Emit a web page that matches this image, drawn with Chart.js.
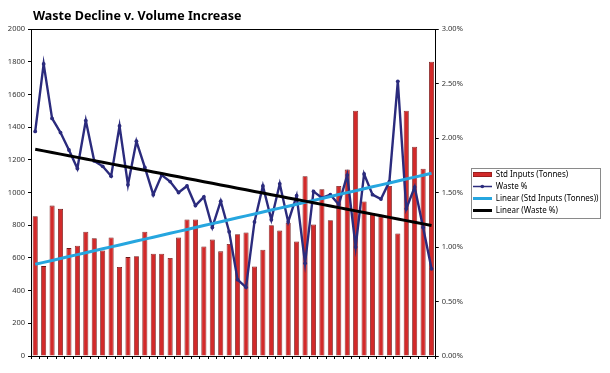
<!DOCTYPE html>
<html>
<head>
<meta charset="utf-8">
<script src="https://cdn.jsdelivr.net/npm/chart.js@4.4.1/dist/chart.umd.min.js"></script>
<style>
  html, body { margin: 0; padding: 0; background: #fff; }
  #wrap { width: 610px; height: 373px; }
</style>
</head>
<body>
<div id="wrap"><canvas id="waste"></canvas></div>
<script>
// one category per period, no labels shown on the chart
const periods = [
  1, 2, 3, 4, 5, 6, 7, 8, 9, 10, 11, 12, 13, 14, 15, 16,
  17, 18, 19, 20, 21, 22, 23, 24, 25, 26, 27, 28, 29, 30, 31, 32,
  33, 34, 35, 36, 37, 38, 39, 40, 41, 42, 43, 44, 45, 46, 47, 48
];

const stdInputs = [
  855, 550, 920, 900, 660, 675, 760, 720, 645, 725, 545, 605, 610, 760, 625, 625,
  600, 725, 835, 835, 670, 712, 640, 685, 745, 755, 548, 650, 800, 767, 815, 701,
  1100, 804, 1020, 830, 1040, 1140, 1500, 945, 875, 853, 1040, 750, 1500, 1280, 1145, 1800
];

const wastePct = [
  2.06, 2.68, 2.18, 2.05, 1.89, 1.72, 2.16, 1.79, 1.74, 1.65, 2.11, 1.57, 1.97, 1.73, 1.48, 1.66,
  1.60, 1.50, 1.56, 1.38, 1.46, 1.18, 1.42, 1.14, 0.70, 0.63, 1.23, 1.56, 1.25, 1.58, 1.23, 1.47,
  0.85, 1.51, 1.45, 1.48, 1.39, 1.66, 1.00, 1.67, 1.48, 1.44, 1.60, 2.52, 1.35, 1.55, 1.18, 0.80
];

const leftTicks = [0, 200, 400, 600, 800, 1000, 1200, 1400, 1600, 1800, 2000];
const rightTicks = [0, 0.5, 1, 1.5, 2, 2.5, 3];

const FONT = "'Noto Sans', 'DejaVu Sans', sans-serif";

// least squares trend, like a spreadsheet "Linear" trendline
function linearTrend(values) {
  const n = values.length;
  let sx = 0, sy = 0, sxy = 0, sxx = 0;
  values.forEach((v, i) => { sx += i; sy += v; sxy += i * v; sxx += i * i; });
  const slope = (n * sxy - sx * sy) / (n * sxx - sx * sx);
  const icpt = (sy - slope * sx) / n;
  return values.map((v, i) => icpt + slope * i);
}

function swatch(draw) {
  const c = document.createElement("canvas");
  c.width = 19;
  c.height = 7;
  draw(c.getContext("2d"));
  return c;
}

const swatches = [
  swatch((g) => {
    g.fillStyle = "#d22a2a";
    g.fillRect(0, 1, 19, 5);
    g.strokeStyle = "#7a1a1a";
    g.lineWidth = 0.6;
    g.strokeRect(0.3, 1.3, 18.4, 4.4);
  }),
  swatch((g) => {
    g.strokeStyle = "#2b2b7d";
    g.lineWidth = 1.5;
    g.beginPath(); g.moveTo(0, 3.5); g.lineTo(19, 3.5); g.stroke();
    g.fillStyle = "#2b2b7d";
    g.beginPath(); g.arc(9.5, 3.5, 1.8, 0, Math.PI * 2); g.fill();
  }),
  swatch((g) => { g.fillStyle = "#26a6df"; g.fillRect(0, 2, 19, 3); }),
  swatch((g) => { g.fillStyle = "#000"; g.fillRect(0, 2, 19, 3); }),
];

const framePlugin = {
  id: "frame",
  afterLayout(chart) {
    // title sits over the plot's left edge, not the canvas edge
    chart.titleBlock.left = chart.chartArea.left + 2;
    // legend is centred on the plot, not on the whole canvas
    chart.legend.top = chart.chartArea.top;
    chart.legend.bottom = chart.chartArea.bottom;
  },
  afterDraw(chart) {
    const { ctx, chartArea: a, legend } = chart;
    ctx.save();
    ctx.strokeStyle = "#000";
    ctx.lineWidth = 1;
    ctx.beginPath();
    ctx.moveTo(a.left, a.top + 0.5);
    ctx.lineTo(a.right, a.top + 0.5);
    ctx.stroke();
    const hb = legend.legendHitBoxes;
    if (hb.length) {
      const x0 = Math.min(...hb.map((b) => b.left)) - 2;
      const x1 = Math.max(...hb.map((b) => b.left + b.width)) + 1;
      const y0 = Math.min(...hb.map((b) => b.top)) - 3;
      const y1 = Math.max(...hb.map((b) => b.top + b.height)) + 3;
      ctx.strokeStyle = "#8a8a8a";
      ctx.strokeRect(Math.round(x0) + 0.5, Math.round(y0) + 0.5, Math.round(x1 - x0), Math.round(y1 - y0));
    }
    ctx.restore();
  },
};

new Chart(document.getElementById("waste"), {
  type: "bar",
  data: {
    labels: periods,
    datasets: [
      {
        label: "Std Inputs (Tonnes)",
        data: stdInputs,
        backgroundColor: "#d22a2a",
        borderColor: "#6e1616",
        borderWidth: 0.8,
        barPercentage: 0.6,
        categoryPercentage: 1.0,
        yAxisID: "y",
        order: 4,
      },
      {
        type: "line",
        label: "Waste %",
        data: wastePct,
        borderColor: "#2b2b7d",
        backgroundColor: "#2b2b7d",
        borderWidth: 2.4,
        pointRadius: 1.9,
        pointBorderWidth: 0,
        tension: 0,
        yAxisID: "y1",
        order: 3,
      },
      {
        type: "line",
        label: "Linear (Std Inputs (Tonnes))",
        data: linearTrend(stdInputs),
        borderColor: "#26a6df",
        borderWidth: 3,
        pointRadius: 0,
        yAxisID: "y",
        order: 2,
      },
      {
        type: "line",
        label: "Linear (Waste %)",
        data: linearTrend(wastePct),
        borderColor: "#000",
        borderWidth: 3,
        pointRadius: 0,
        yAxisID: "y1",
        order: 1,
      },
    ],
  },
  options: {
    responsive: true,
    maintainAspectRatio: false,
    animation: false,
    layout: { padding: { left: 0, right: 1.5, top: 0, bottom: 14 } },
    plugins: {
      tooltip: { enabled: false },
      title: {
        display: true,
        text: "Waste Decline v. Volume Increase",
        align: "start",
        color: "#000",
        font: { family: FONT, size: 12.5, weight: "bold" },
        padding: { top: 9, bottom: 5 },
      },
      legend: {
        position: "right",
        maxWidth: 150,
        labels: {
          color: "#111",
          font: { family: FONT, size: 8 },
          usePointStyle: true,
          pointStyleWidth: 19,
          padding: 4,
          generateLabels(chart) {
            return chart.data.datasets.map((ds, i) => ({
              text: ds.label,
              datasetIndex: i,
              pointStyle: swatches[i],
              fillStyle: "#fff",
              strokeStyle: "#fff",
              lineWidth: 0,
              hidden: false,
            }));
          },
        },
      },
    },
    scales: {
      x: {
        offset: true,
        grid: { offset: true, drawOnChartArea: false, drawTicks: true, tickLength: 3, color: "#000" },
        border: { color: "#000", width: 1 },
        ticks: { display: false },
      },
      y: {
        position: "left",
        min: 0,
        max: 2000,
        afterBuildTicks(scale) { scale.ticks = leftTicks.map((v) => ({ value: v })); },
        afterFit(scale) { scale.width = 31; },
        grid: { drawOnChartArea: false, drawTicks: true, tickLength: 3, color: "#000" },
        border: { color: "#000", width: 1 },
        ticks: {
          color: "#333",
          padding: 3,
          font: { family: FONT, size: 7.5 },
          callback: (v) => String(v),
        },
      },
      y1: {
        position: "right",
        min: 0,
        max: 3,
        afterBuildTicks(scale) { scale.ticks = rightTicks.map((v) => ({ value: v })); },
        afterFit(scale) { scale.width = 33; },
        grid: { drawOnChartArea: false, drawTicks: true, tickLength: 3, color: "#000" },
        border: { color: "#000", width: 1 },
        ticks: {
          color: "#333",
          padding: 3,
          font: { family: FONT, size: 7.5 },
          callback: (v) => v.toFixed(2) + "%",
        },
      },
    },
  },
  plugins: [framePlugin],
});
</script>
</body>
</html>
